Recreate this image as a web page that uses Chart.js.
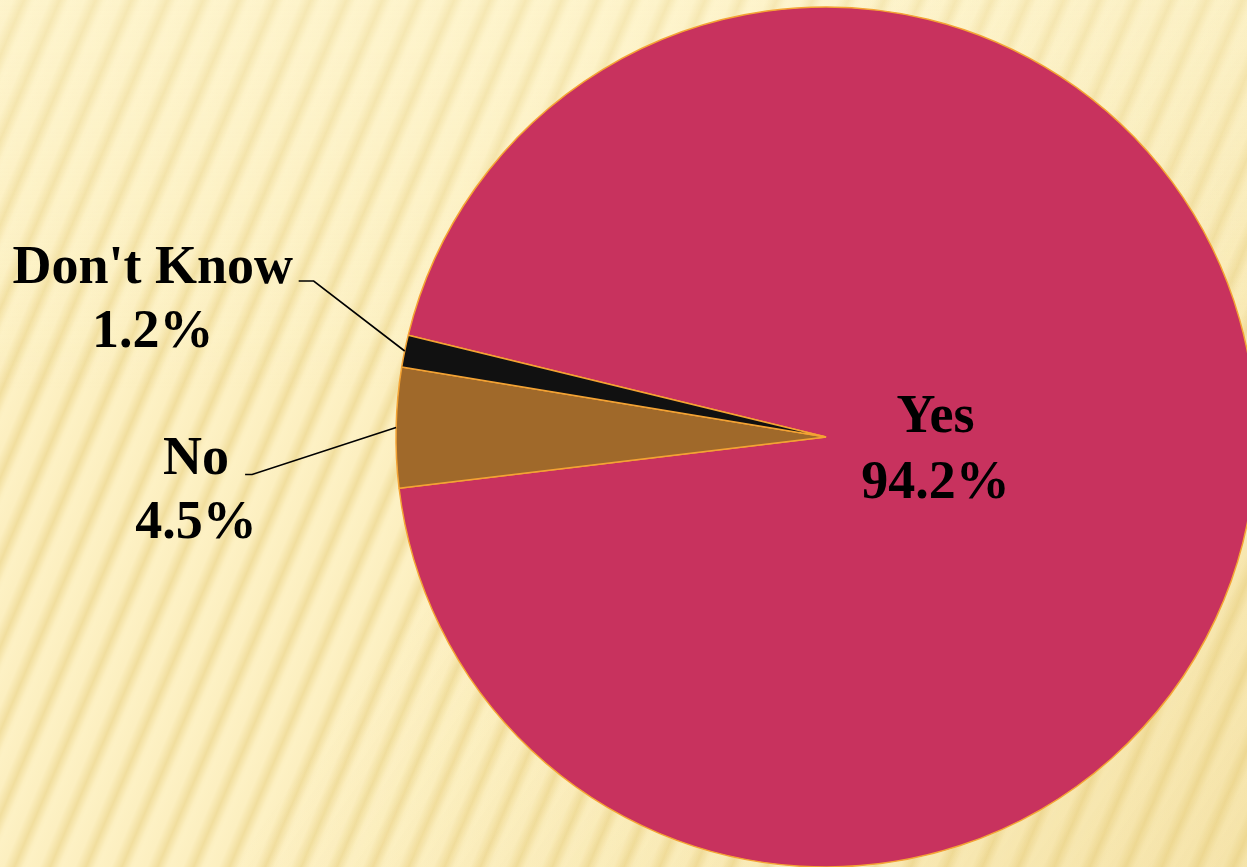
<!DOCTYPE html>
<html>
<head>
<meta charset="utf-8">
<script src="https://cdn.jsdelivr.net/npm/chart.js@4.4.0/dist/chart.umd.min.js"></script>
<style>
  html, body {
    margin: 0;
    padding: 0;
    width: 1247px;
    height: 867px;
    overflow: hidden;
  }
  body {
    background:
      linear-gradient(180deg, rgba(255,250,220,0.35) 0%, rgba(255,255,255,0) 45%),
      linear-gradient(125deg, rgba(255,255,255,0) 45%, rgba(228,200,115,0.30) 100%),
      repeating-linear-gradient(113deg, #fdf1c4 0px, #fcefc0 12px, #f1de9e 22px, #fcefc0 30px, #fdf1c4 33px);
  }
  #wrap { position: absolute; left: 0; top: 0; }
</style>
</head>
<body>
<div id="wrap">
  <canvas id="pie-chart" width="1300" height="867"></canvas>
</div>
<script>
// Données du graphique
const categories = ["Yes", "No", "Don't Know"];
const percentages = [94.2, 4.5, 1.2];
const sliceColors = ["#c8325e", "#a0692a", "#111111"];

// position des étiquettes (style)
const labelFont = 'bold 54px "Liberation Serif", "Times New Roman", serif';
const outsideLabels = {
  "Don't Know": { elbow: [-91, -70], text: [-252, -50], lineEnd: [-106, -70] },
  "No": { elbow: [-144, 47], text: [-200, 65], lineEnd: [-151, 47] },
};

const labelPlugin = {
  id: "pieLabels",
  afterDatasetsDraw(chart) {
    const ctx = chart.ctx;
    const meta = chart.getDatasetMeta(0);
    ctx.save();
    ctx.font = labelFont;
    ctx.fillStyle = "#000";
    ctx.textAlign = "center";
    ctx.textBaseline = "middle";
    meta.data.forEach((arc, i) => {
      const p = arc.getProps(["x", "y", "startAngle", "endAngle", "outerRadius"], true);
      const mid = (p.startAngle + p.endAngle) / 2;
      const name = categories[i];
      const lines = [name, percentages[i].toFixed(1) + "%"];
      const cfg = outsideLabels[name];
      if (!cfg) {
        // étiquette à l'intérieur
        const r = p.outerRadius * 0.255;
        const cx = p.x + Math.cos(mid) * r;
        const cy = p.y + Math.sin(mid) * r + 7;
        ctx.fillText(lines[0], cx, cy - 33);
        ctx.fillText(lines[1], cx, cy + 33);
        return;
      }
      const ex = p.x + Math.cos(mid) * p.outerRadius;
      const ey = p.y + Math.sin(mid) * p.outerRadius;
      ctx.strokeStyle = "#000";
      ctx.lineWidth = 1.6;
      ctx.beginPath();
      ctx.moveTo(ex, ey);
      ctx.lineTo(ex + cfg.elbow[0], ey + cfg.elbow[1]);
      ctx.lineTo(ex + cfg.lineEnd[0], ey + cfg.lineEnd[1]);
      ctx.stroke();
      const tx = ex + cfg.text[0];
      const ty = ey + cfg.text[1];
      ctx.fillText(lines[0], tx, ty - 32);
      ctx.fillText(lines[1], tx, ty + 32);
    });
    ctx.restore();
  },
};

const ctx = document.getElementById("pie-chart").getContext("2d");
new Chart(ctx, {
  type: "pie",
  data: {
    labels: categories,
    datasets: [
      {
        data: percentages,
        backgroundColor: sliceColors,
        borderColor: "#f4a334",
        borderWidth: 1.5,
      },
    ],
  },
  options: {
    responsive: false,
    animation: false,
    rotation: 283.7,
    radius: 430,
    layout: { padding: { left: 396, right: 44, top: 7, bottom: 0 } },
    plugins: {
      legend: { display: false },
      tooltip: { enabled: false },
    },
  },
  plugins: [labelPlugin],
});
</script>
</body>
</html>
